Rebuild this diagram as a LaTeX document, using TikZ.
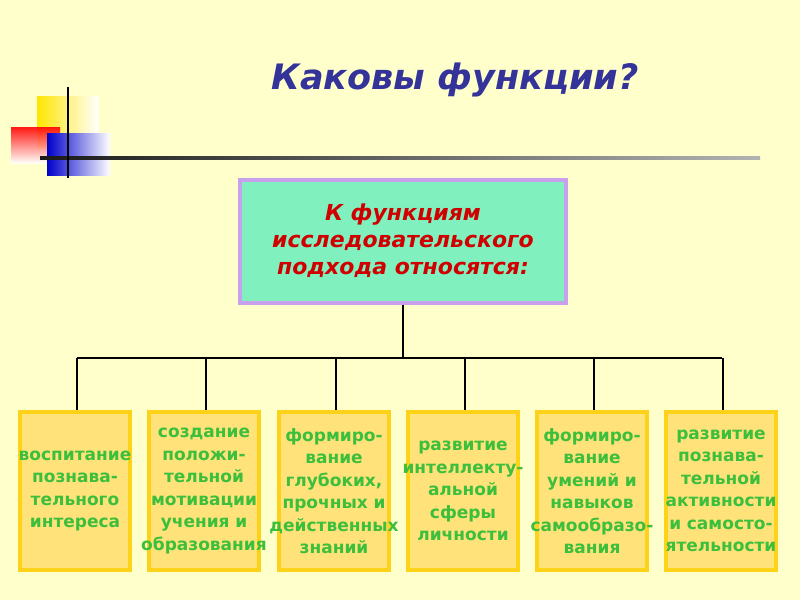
\documentclass[tikz,border=0pt]{standalone}
\usepackage{fontspec}
\setmainfont{DejaVu Sans}
\begin{document}
\begin{tikzpicture}[x=1pt,y=-1pt,
  fbox/.style={draw=boxedge,line width=4pt,fill=boxfill,minimum width=110pt,minimum height=158pt,inner sep=0pt},
  ftext/.style={text=txtgreen,font=\bfseries\fontsize{17}{22.5}\selectfont,align=center,text width=150pt},
  conn/.style={line width=1.3pt,black}]
\definecolor{bg}{HTML}{FFFFCC}
\definecolor{boxedge}{HTML}{FFD21A}
\definecolor{boxfill}{HTML}{FFE27A}
\definecolor{txtgreen}{HTML}{3CBF3C}
\definecolor{mainfill}{HTML}{80F0BE}
\definecolor{mainedge}{HTML}{C8A0EC}
\definecolor{titleblue}{HTML}{333399}
\definecolor{redtxt}{HTML}{D00000}
\useasboundingbox (0,0) rectangle (800,600);
\fill[bg] (0,0) rectangle (800,600);
% decoration
\shade[left color=yellow!80!orange,right color=white] (37,96) rectangle (98,148);
\shade[top color=red,bottom color=white,opacity=0.9] (11,127) rectangle (60,163);
\shade[left color=blue!80!black,right color=white] (47,133) rectangle (110,175);
\shade[left color=black!90,right color=black!30] (40,156) rectangle (760,159);
\draw[line width=1.3pt] (68,87) -- (68,178);
\node[text=titleblue,font=\bfseries\itshape\fontsize{35}{40}\selectfont] (title) at (455,80) {Каковы функции?};
% main box
\node[draw=mainedge,line width=4pt,fill=mainfill,minimum width=326pt,minimum height=123pt,align=center,text=redtxt,font=\bfseries\itshape\fontsize{22}{27}\selectfont] (main) at (403,241) {К функциям\\исследовательского\\подхода относятся:};
\coordinate (bus) at (403,358);
\draw[conn] (main.south) -- (bus);
\draw[conn] (77,358) -- (722,358);
\foreach \i/\x/\t in {1/75/{воспитание\\познава-\\тельного\\интереса},
  2/204/{создание\\положи-\\тельной\\мотивации\\учения и\\образования},
  3/334/{формиро-\\вание\\глубоких,\\прочных и\\действенных\\знаний},
  4/463/{развитие\\интеллекту-\\альной\\сферы\\личности},
  5/592/{формиро-\\вание\\умений и\\навыков\\самообразо-\\вания},
  6/721/{развитие\\познава-\\тельной\\активности\\и самосто-\\ятельности}}{
  \node[fbox] (b\i) at (\x,491) {};
  \node[ftext] (t\i) at (b\i) {\t};
  \draw[conn] (\x+2,358) -- (b\i.north -| {(\x+2,0)});
}
\end{tikzpicture}
\end{document}
